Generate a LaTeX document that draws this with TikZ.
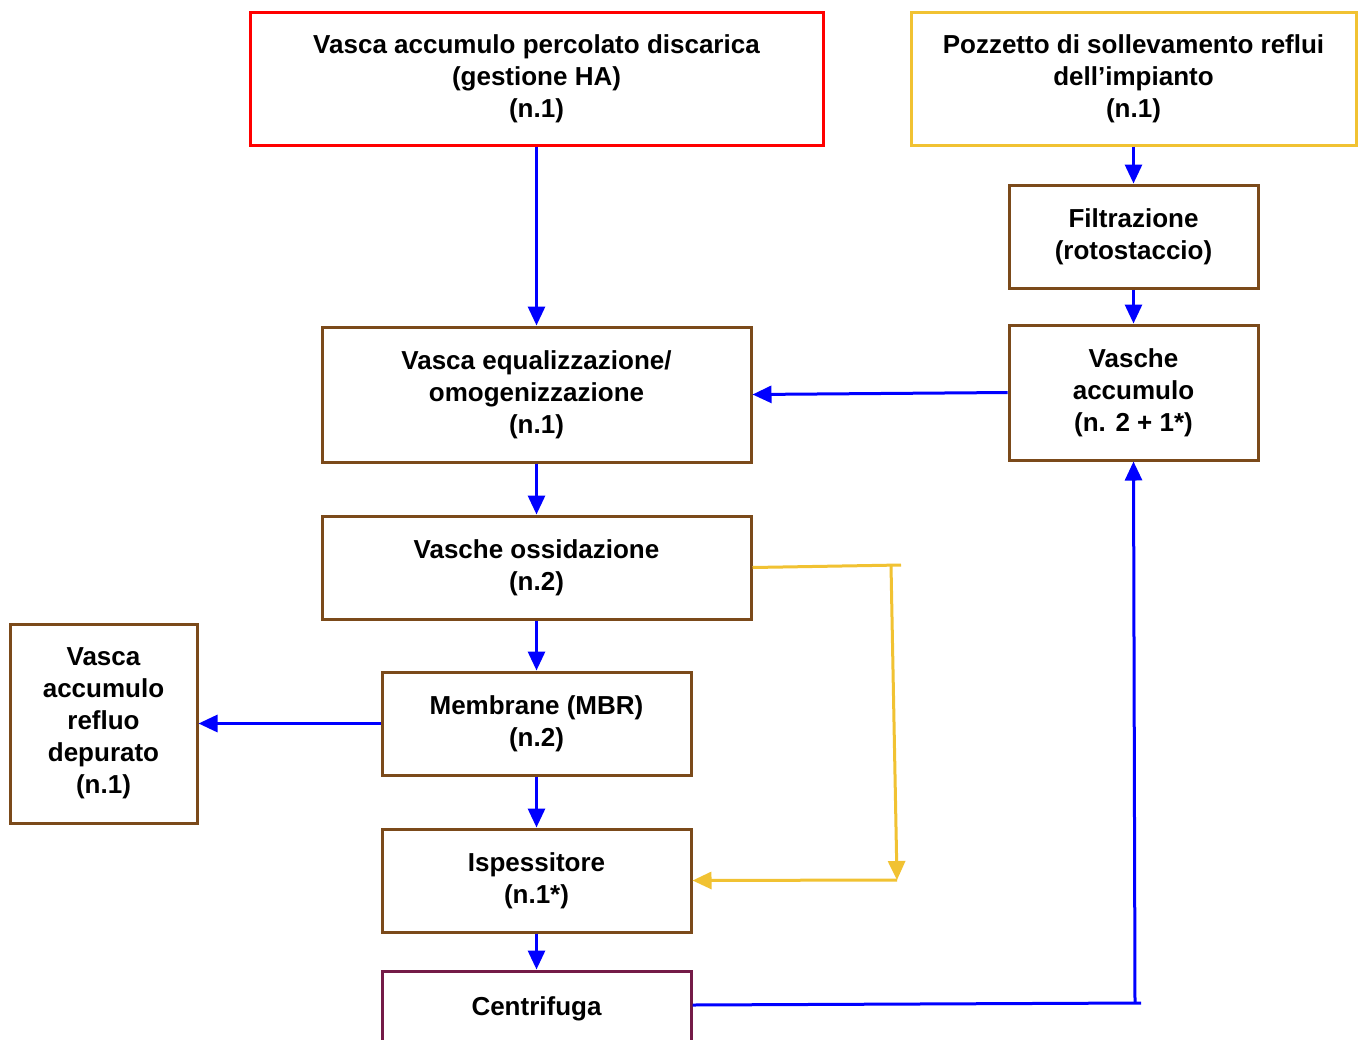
\documentclass[tikz,border=0pt]{standalone}
\usepackage{fontspec}
\setmainfont{Liberation Sans}
\usetikzlibrary{arrows.meta}
\definecolor{brownc}{HTML}{7B4A1A}
\definecolor{yelc}{HTML}{F1C232}
\definecolor{bluec}{HTML}{0000FF}
\definecolor{redc}{HTML}{FF0000}
\definecolor{purc}{HTML}{741B47}
\tikzset{
  box/.style={draw=brownc, line width=3pt, inner sep=0pt, align=center, fill=white,
    font=\fontsize{26pt}{32pt}\selectfont\bfseries},
  bflow/.style={draw=bluec, line width=3pt, -{Triangle[length=19pt,width=17pt]}},
  bline/.style={draw=bluec, line width=3pt},
  yflow/.style={draw=yelc, line width=3pt, -{Triangle[length=19pt,width=17pt]}},
  yline/.style={draw=yelc, line width=3pt}
}
\begin{document}
\begin{tikzpicture}[x=1pt,y=-1pt]
\useasboundingbox (0,0) rectangle (1365,1039);
\fill[white] (0,0) rectangle (1365,1039);
\node[box, draw=redc, minimum width=573pt, minimum height=133pt] (red) at (536.5,78.5)
  {Vasca accumulo percolato discarica\\(gestione HA)\\(n.1)};
\node[box, draw=yelc, minimum width=445pt, minimum height=133pt] (yel) at (1133.5,78.5)
  {Pozzetto di sollevamento reflui\\dell’impianto\\(n.1)};
\node[box, minimum width=249pt, minimum height=103pt] (fil) at (1133.5,236.5)
  {Filtrazione\\(rotostaccio)};
\node[box, minimum width=249pt, minimum height=135pt] (va) at (1133.5,392.5)
  {Vasche\\accumulo\\(n. 2 + 1*)};
\node[box, minimum width=429pt, minimum height=135pt] (eq) at (536.5,394.5)
  {Vasca equalizzazione/\\omogenizzazione\\(n.1)};
\node[box, minimum width=429pt, minimum height=103pt] (ox) at (536.5,567.5)
  {Vasche ossidazione\\(n.2)};
\node[box, minimum width=309pt, minimum height=103pt] (mem) at (536.5,723.5)
  {Membrane (MBR)\\(n.2)};
\node[box, minimum width=187pt, minimum height=199pt] (ref) at (103.5,723.5)
  {Vasca\\accumulo\\refluo\\depurato\\(n.1)};
\node[box, minimum width=309pt, minimum height=103pt] (isp) at (536.5,880.5)
  {Ispessitore\\(n.1*)};
\node[box, draw=purc, minimum width=309pt, minimum height=76pt] (cen) at (536.5,1009)
  {\raisebox{5pt}{Centrifuga}};
\coordinate (ya) at (901,565);
\coordinate (yb) at (891,565);
\coordinate (yc) at (897,880);
\coordinate (ba) at (1141,1003);
\coordinate (bb) at (1135,1003);
\draw[bflow] (red.south) -- (eq.north);
\draw[bflow] (yel.south) -- (fil.north);
\draw[bflow] (fil.south) -- (va.north);
\draw[bflow] (va.west) -- (eq.east);
\draw[bflow] (eq.south) -- (ox.north);
\draw[bflow] (ox.south) -- (mem.north);
\draw[bflow] (mem.west) -- (ref.east);
\draw[bflow] (mem.south) -- (isp.north);
\draw[bflow] (isp.south) -- (cen.north);
\draw[bline] ([yshift=4pt]cen.east) -- (ba);
\draw[bflow] (bb) -- (va.south);
\draw[yline] (ox.east) -- (ya);
\draw[yflow] (yb) -- (yc);
\draw[yflow] (yc) -- (isp.east);
\end{tikzpicture}
\end{document}
